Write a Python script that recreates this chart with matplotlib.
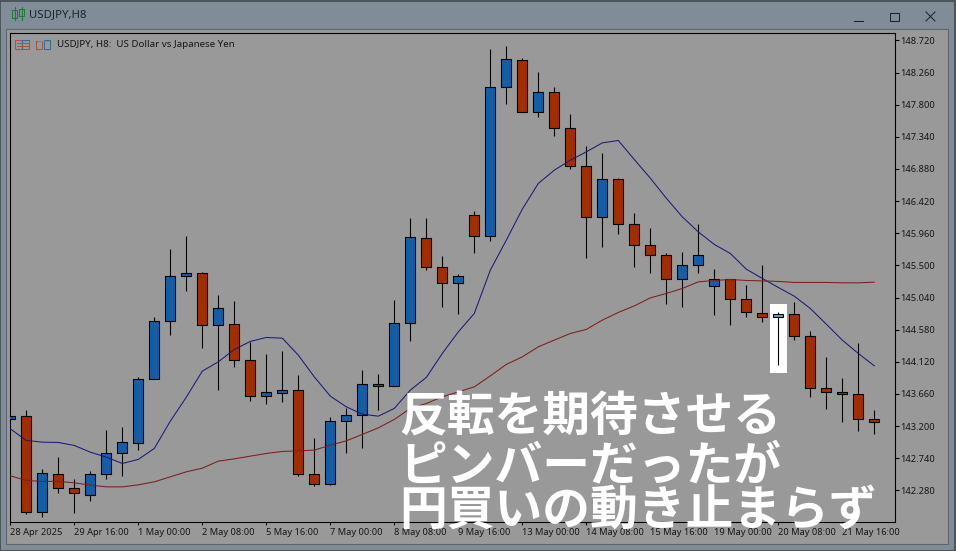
import numpy as np
import matplotlib
matplotlib.use('Agg')
import matplotlib.pyplot as plt
from matplotlib.patches import Rectangle

tick_labels_x = ['28 Apr 2025', '29 Apr 16:00', '1 May 00:00', '2 May 08:00', '5 May 16:00',
                 '7 May 00:00', '8 May 08:00', '9 May 16:00', '13 May 00:00', '14 May 08:00',
                 '15 May 16:00', '19 May 00:00', '20 May 08:00', '21 May 16:00']
tick_values_y = [142.28, 142.74, 143.20, 143.66, 144.12, 144.58, 145.04, 145.50,
                 145.96, 146.42, 146.88, 147.34, 147.80, 148.26, 148.72]

opens = [143.306, 143.337, 141.963, 142.507, 142.306, 142.206, 142.507, 142.807, 142.951, 143.867,
         144.697, 145.341, 145.384, 144.640, 144.654, 144.139, 143.624, 143.666, 143.709, 142.507,
         142.364, 143.266, 143.351, 143.795, 143.767, 144.669, 145.885, 145.479, 145.241, 146.215,
         145.914, 148.047, 148.434, 147.689, 147.976, 147.460, 146.930, 146.186, 146.730, 146.086,
         145.785, 145.642, 145.298, 145.499, 145.198, 145.298, 145.012, 144.812, 144.754, 144.797,
         144.482, 143.738, 143.681, 143.652, 143.294]
closes = [143.337, 141.963, 142.521, 142.306, 142.235, 142.507, 142.807, 142.965, 143.867, 144.697,
          145.341, 145.384, 144.640, 144.883, 144.139, 143.624, 143.681, 143.709, 142.507, 142.364,
          143.266, 143.351, 143.795, 143.767, 144.669, 145.900, 145.479, 145.241, 145.341, 145.914,
          148.047, 148.448, 147.689, 147.976, 147.460, 146.930, 146.186, 146.730, 146.086, 145.785,
          145.642, 145.298, 145.499, 145.642, 145.298, 145.012, 144.826, 144.754, 144.797, 144.482,
          143.738, 143.681, 143.652, 143.294, 143.251]
highs = [143.337, 143.423, 142.578, 142.750, 142.435, 142.550, 143.137, 143.180, 143.896, 144.754,
         145.728, 145.918, 145.403, 145.069, 144.984, 144.405, 144.229, 144.272, 143.928, 143.022,
         143.323, 143.452, 144.000, 143.943, 145.002, 146.176, 146.176, 145.628, 145.370, 146.276,
         148.595, 148.638, 148.467, 148.262, 148.047, 147.661, 147.203, 147.102, 146.744, 146.243,
         146.029, 145.671, 145.685, 146.090, 145.442, 145.298, 145.213, 145.499, 144.826, 144.969,
         144.554, 144.182, 143.881, 144.382, 143.423]
lows = [143.306, 141.943, 141.900, 142.243, 141.957, 142.129, 142.444, 142.487, 142.859, 143.867,
        144.505, 145.135, 144.319, 143.718, 144.047, 143.560, 143.518, 143.546, 142.478, 142.344,
        142.349, 142.816, 142.888, 143.427, 143.767, 144.419, 145.436, 144.906, 144.806, 145.679,
        145.851, 147.804, 147.689, 147.626, 147.354, 146.873, 145.599, 145.757, 145.943, 145.470,
        145.393, 144.949, 144.906, 145.384, 144.792, 144.649, 144.763, 144.691, 144.076, 144.425,
        143.618, 143.446, 143.260, 143.131, 143.088]
ma_fast = [143.160, 142.994, 142.969, 142.965, 142.922, 142.826, 142.755, 142.664, 142.722, 142.879,
           143.270, 143.613, 143.986, 144.119, 144.296, 144.411, 144.468, 144.458, 144.215, 143.904,
           143.628, 143.475, 143.370, 143.341, 143.452, 143.714, 143.896, 144.239, 144.548, 144.812,
           145.432, 145.861, 146.305, 146.673, 146.863, 147.006, 147.125, 147.254, 147.288, 147.016,
           146.749, 146.462, 146.195, 145.980, 145.800, 145.671, 145.446, 145.313, 145.184, 145.059,
           144.883, 144.659, 144.430, 144.239, 144.062]
ma_slow = [142.487, 142.421, 142.407, 142.407, 142.387, 142.354, 142.329, 142.329, 142.358, 142.401,
           142.473, 142.544, 142.597, 142.697, 142.730, 142.769, 142.807, 142.836, 142.845, 142.855,
           142.926, 142.988, 143.080, 143.174, 143.294, 143.452, 143.523, 143.618, 143.689, 143.761,
           143.918, 144.082, 144.190, 144.334, 144.430, 144.525, 144.583, 144.716, 144.826, 144.920,
           145.035, 145.098, 145.170, 145.264, 145.284, 145.298, 145.284, 145.278, 145.270, 145.256,
           145.256, 145.256, 145.250, 145.250, 145.260]

plt.rcParams['font.family'] = ['Noto Sans', 'DejaVu Sans']

W, H = 956, 551
frame_col = '#808d99'
panel_col = '#999999'
text_col = '#161616'
up_col = '#135ea6'
down_col = '#a12e00'

fig = plt.figure(figsize=(W / 100, H / 100), dpi=100, facecolor=frame_col)

# window chrome in pixel coords
bg = fig.add_axes([0, 0, 1, 1])
bg.set_xlim(0, W)
bg.set_ylim(H, 0)
bg.axis('off')
bg.add_patch(Rectangle((0, 0), W, 1.5, color='#4d555c', lw=0))
bg.add_patch(Rectangle((0, H - 1.5), W, 1.5, color='#4d555c', lw=0))
bg.add_patch(Rectangle((0, 0), 1.5, H, color='#4d555c', lw=0))
bg.add_patch(Rectangle((W - 1.5, 0), 1.5, H, color='#4d555c', lw=0))
bg.add_patch(Rectangle((6.5, 29), 942, 514.5, facecolor=panel_col, edgecolor='#5d666e', lw=0.8))

# title bar icon
for cx, s0, s1 in [(15, 10, 18), (22, 9, 16)]:
    bg.plot([cx, cx], [7, 20], color='#1f7a34', lw=0.75)
    bg.add_patch(Rectangle((cx - 2.5, s0), 5, s1 - s0, facecolor=frame_col, edgecolor='#1f7a34', lw=0.75))
fig.text(29 / W, 1 - 14.5 / H, 'USDJPY,H8', fontsize=8.2, color='#1c252c', va='center', ha='left')

# window buttons
bg.plot([854, 863], [20.5, 20.5], color='#1c252c', lw=0.75)
bg.add_patch(Rectangle((890.5, 12.5), 8.5, 8.5, fill=False, edgecolor='#1c252c', lw=0.75))
bg.plot([926, 935], [12, 21], color='#1c252c', lw=0.75)
bg.plot([926, 935], [21, 12], color='#1c252c', lw=0.75)

# small legend icons
bg.add_patch(Rectangle((15.5, 39.5), 14, 9.5, fill=False, edgecolor='#a5524a', lw=0.75))
bg.plot([22.5, 29.5], [39.5, 39.5], color='#2f6f96', lw=0.75)
bg.plot([22.5, 22.5], [39.5, 49], color='#2f6f96', lw=0.75)
for yy in [42.5, 45.5]:
    bg.plot([17, 28], [yy, yy], color='#a5524a', lw=0.7)
bg.add_patch(Rectangle((36.5, 40.5), 6, 8.5, fill=False, edgecolor='#a5524a', lw=0.75))
bg.add_patch(Rectangle((44.5, 39.5), 6, 9.5, fill=False, edgecolor='#2f6f96', lw=0.75))
bg.plot([38, 49], [40.5, 40.5], color='#7a8a94', lw=0.75)
fig.text(57 / W, 1 - 44.7 / H, 'USDJPY, H8:  US Dollar vs Japanese Yen', fontsize=7.0,
         color=text_col, va='center', ha='left')

# chart area
left, right, top, bottom = 10.3, 895.3, 33.0, 522.0
ax = fig.add_axes([left / W, 1 - bottom / H, (right - left) / W, (bottom - top) / H])
ax.patch.set_alpha(0)
ax.set_xlim(0, (right - left) / 16)
ax.set_ylim(141.826, 148.827)

# white highlight behind the pin bar
ax.add_patch(Rectangle((47.48, 143.957), 1.06, 0.988, color='white', lw=0, zorder=1))

x = np.arange(len(opens))
o = np.array(opens)
c = np.array(closes)
ax.vlines(x, lows, highs, color='black', lw=0.8, zorder=2)
colors = [up_col if b >= a else down_col for a, b in zip(o, c)]
colors[48] = '#6f9bd2'
ax.bar(x, np.abs(c - o), bottom=np.minimum(o, c), width=0.62, color=colors,
       edgecolor='black', linewidth=0.8, zorder=3)

ax.plot(x, ma_fast, color='#1c1a78', lw=0.75, zorder=4)
ax.plot(x, ma_slow, color='#7c1f1f', lw=0.75, zorder=4)

for side in ['top', 'left', 'right', 'bottom']:
    ax.spines[side].set_linewidth(0.8)

ax.yaxis.tick_right()
ax.set_yticks(tick_values_y)
ax.set_yticklabels(['%.3f' % v for v in tick_values_y])
ax.tick_params(axis='y', length=3, width=0.8, pad=0.5, labelsize=6.7, labelcolor=text_col)
ax.set_xticks(np.arange(len(tick_labels_x)) * 4)
ax.set_xticklabels(tick_labels_x, ha='left')
ax.tick_params(axis='x', length=2.3, width=0.8, pad=2, labelsize=6.7, labelcolor=text_col)

# overlay caption
cjk = ['Noto Sans CJK JP', 'DejaVu Sans']
for line, px, py in [('反転を期待させる', 399, 417), ('ピンバーだったが', 399, 466), ('円買いの動き止まらず', 399, 511)]:
    fig.text(px / W, 1 - py / H, line, fontsize=34.4, color='white', fontweight='bold',
             family=cjk, va='center', ha='left', zorder=10)

fig.savefig('out.png', dpi=100, facecolor=fig.get_facecolor())
